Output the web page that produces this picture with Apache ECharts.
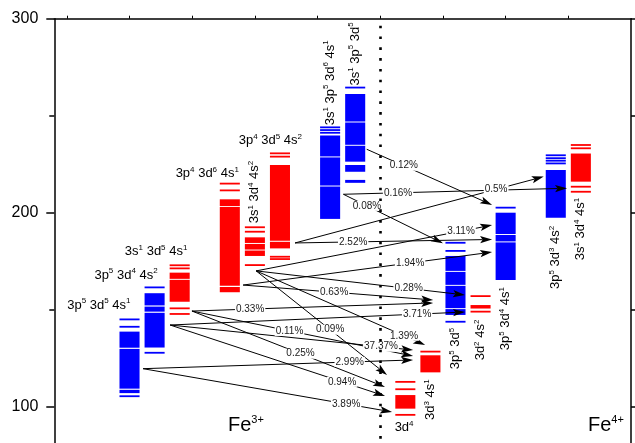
<!DOCTYPE html>
<html>
<head>
<meta charset="utf-8">
<script src="https://cdn.jsdelivr.net/npm/echarts@6/dist/echarts.min.js"></script>
<style>
  html, body { margin: 0; padding: 0; background: #fff; }
  #chart { width: 635px; height: 443px; }
</style>
</head>
<body>
<div id="chart"></div>
<script>
// electron configurations ("^" marks the superscript occupancy)
const configs = [
  '3p^5 3d^5 4s^1', '3p^5 3d^4 4s^2', '3s^1 3d^5 4s^1', '3p^4 3d^6 4s^1',
  '3s^1 3d^4 4s^2', '3p^4 3d^5 4s^2', '3s^1 3p^5 3d^6 4s^1', '3s^1 3p^5 3d^5',
  '3d^4', '3d^3 4s^1', '3p^5 3d^5', '3d^2 4s^2', '3p^5 3d^4 4s^1',
  '3p^5 3d^3 4s^2', '3s^1 3d^4 4s^1'
];
const configSlot = [0, 1, 2, 4, 5, 6, 8, 9, 11, 12, 13, 14, 15, 17, 18];
const configParity = ['odd', 'odd', 'even', 'even', 'even', 'even', 'odd', 'odd',
  'even', 'even', 'odd', 'even', 'odd', 'odd', 'even'];

// energy levels (eV): a number is a single level, [top, bottom] a dense band
const configLevels = [
  [145.0, 141.2, [138.7, 130.4], [129.8, 109.3], [108.7, 107.0], 105.4],
  [161.5, [158.5, 152.2], [151.6, 149.0], [148.4, 130.5], 127.8],
  [172.9, 171.3, [169.1, 165.9], [165.4, 154.1], 150.7, 147.8],
  [215.0, 211.5, [206.9, 203.4], [202.9, 162.3], [161.7, 159.0]],
  [192.5, 190.2, [187.3, 184.4], [183.9, 181.0], [180.5, 177.7], 173.0],
  [230.6, 228.9, [224.6, 185.6], [185.0, 181.6], 177.3, 176.1],
  [244.0, 242.6, 241.2, [239.8, 229.0], [228.5, 214.0], [213.5, 196.8]],
  [264.5, [261.2, 247.0], [246.5, 235.0], [234.5, 226.3], [224.6, 221.1], [216.9, 215.4]],
  [112.8, 109.0, [106.0, 99.0], 95.8],
  [128.4, [126.5, 117.7]],
  [184.5, 180.3, [177.7, 170.0], [169.5, 162.8], [162.3, 150.8], [150.3, 147.3], 143.8],
  [157.0, [152.4, 150.6], 149.0],
  [202.6, [200.0, 189.0], [188.5, 185.2], [184.7, 165.3]],
  [229.6, 228.1, 226.8, 225.4, [222.0, 197.4]],
  [234.9, 233.2, [230.5, 216.0], 213.4, 210.8]
];

// transitions: branching ratio, start [slot, eV], end [slot, eV]
const transLabel = ['0.12%', '0.16%', '0.08%', '0.5%', '2.52%', '3.11%', '1.94%', '0.63%',
  '0.28%', '0.33%', '3.71%', '1.39%', '0.09%', '37.37%', '0.11%', '2.99%', '0.25%', '0.94%', '3.89%'];
const transFrom = [
  [9.46, 232.7], [8.53, 209.5], [8.53, 209.5], [6.60, 184.4], [6.60, 184.4], [5.05, 170.0],
  [4.53, 162.7], [4.53, 162.7], [5.05, 170.0], [2.49, 149.3], [1.62, 142.1], [5.05, 170.0],
  [5.05, 170.0], [1.62, 142.1], [2.49, 149.3], [0.54, 119.6], [2.49, 149.3], [1.62, 142.1],
  [0.54, 119.6]
];
const transTo = [
  [14.46, 204.0], [17.45, 212.6], [12.50, 184.2], [16.52, 218.6], [14.46, 186.2], [14.46, 193.6],
  [14.46, 179.7], [12.11, 155.0], [13.38, 157.6], [12.11, 153.5], [13.38, 148.8], [11.79, 131.8],
  [10.27, 116.4], [11.31, 129.2], [11.31, 126.1], [11.31, 124.1], [10.19, 110.2], [10.19, 105.5],
  [10.47, 97.3]
];
// where along each arrow (slot units) its ratio is written
const transLabelAt = [10.94, 10.71, 9.47, 14.62, 8.92, 13.22, 11.19, 8.16, 11.13, 4.81, 11.47,
  10.95, 8.00, 10.03, 6.38, 8.78, 6.82, 8.48, 8.64];

// --- layout / style ---
const FONT = 'Liberation Sans, Arial, sans-serif';
const parityColor = { odd: '#0000ff', even: '#ff0000' };
const HALF = 0.4;
// label placement: horizontal labels get a centre [slot, eV]; others go up/down off the block
const tagPlace = {
  0: { h: [-1.22, 152.4] }, 1: { h: [-0.14, 167.9] }, 2: { h: [1.06, 180.0] },
  3: { h: [3.10, 220.2] }, 4: { up: 4 }, 5: { h: [5.62, 237.0] }, 6: { up: 2 }, 7: { up: 2 },
  8: { h: [10.95, 89.3] }, 9: { down: 7 }, 10: { down: 6 }, 11: { down: 8 }, 12: { down: 7 },
  13: { down: 8 }, 14: { down: 6 }
};
const richStyle = {
  n: { fontSize: 13, fontFamily: FONT, color: '#000', lineHeight: 16 },
  s: { fontSize: 8, fontFamily: FONT, color: '#000', lineHeight: 9, verticalAlign: 'top' }
};
function toRich(name) {
  return name.split(' ').map(part => {
    const p = part.split('^');
    return '{n|' + p[0] + '}' + (p[1] ? '{s|' + p[1] + '}' : '');
  }).join('{n| }');
}

const levelData = [];
configLevels.forEach((lv, i) => {
  lv.forEach(v => {
    const band = Array.isArray(v) ? v : [v, v];
    levelData.push([configSlot[i], band[0], band[1], i]);
  });
});
const tagData = configs.map((c, i) => {
  const lv = configLevels[i].flat();
  return [configSlot[i], Math.max(...lv), Math.min(...lv), i];
});
const arrowData = transFrom.map((f, i) => f.concat(transTo[i], [i]));
const pctData = arrowData.map((a, i) => a.slice(0, 4).concat([transLabelAt[i], i]));

const ionRich = {
  n: { fontSize: 20, fontFamily: FONT, color: '#000', lineHeight: 22 },
  s: { fontSize: 11, fontFamily: FONT, color: '#000', lineHeight: 12, verticalAlign: 'top' }
};

const chart = echarts.init(document.getElementById('chart'));
chart.setOption({
  animation: false,
  backgroundColor: '#fff',
  grid: { left: 54.3, top: 18.7, width: 576.7, height: 582, outerBoundsMode: 'none', containLabel: false },
  xAxis: {
    type: 'value', min: -3, max: 20, position: 'top',
    axisLine: { show: true, onZero: false, lineStyle: { color: '#000', width: 1.5 } },
    axisTick: { show: true, customValues: [-2.5, 0, 2.5, 5, 7.5, 10, 12.5, 15, 17.5], length: 3,
      lineStyle: { color: '#000', width: 1 } },
    axisLabel: { show: false },
    splitLine: { show: false }
  },
  yAxis: [0, 1].map(k => ({
    type: 'value', min: 0, max: 300, interval: 100, position: k ? 'right' : 'left',
    axisLine: { show: true, onZero: false, lineStyle: { color: '#000', width: 1.5 } },
    axisTick: { show: true, inside: false, length: 8, lineStyle: { color: '#000', width: 1.5 } },
    minorTick: { show: true, splitNumber: 2, length: 5, lineStyle: { color: '#000', width: 1.5 } },
    axisLabel: { show: !k, margin: 16, fontSize: 16, fontFamily: FONT, color: '#000',
      formatter: v => (v > 0 ? String(v) : '') },
    splitLine: { show: false }
  })),
  graphic: [
    { type: 'text', left: 228, top: 414, style: { text: '{n|Fe}{s|3+}', rich: ionRich } },
    { type: 'text', left: 588, top: 414, style: { text: '{n|Fe}{s|4+}', rich: ionRich } }
  ],
  series: [
    {
      type: 'custom', name: 'levels', data: levelData, encode: { x: 0, y: [1, 2] },
      renderItem: (params, api) => {
        const x = api.value(0);
        const p1 = api.coord([x - HALF, api.value(1)]);
        const p2 = api.coord([x + HALF, api.value(2)]);
        let y = p1[1], h = p2[1] - p1[1];
        if (h < 1.8) { y = (p1[1] + p2[1]) / 2 - 0.9; h = 1.8; }
        return { type: 'rect', shape: { x: p1[0], y: y, width: p2[0] - p1[0], height: h },
          style: { fill: parityColor[configParity[api.value(3)]] } };
      },
      markLine: {
        silent: true, symbol: ['none', 'none'], label: { show: false },
        lineStyle: { color: '#000', width: 2.6, type: [2.6, 8.2] },
        data: [{ xAxis: 10 }]
      },
      z: 2
    },
    {
      type: 'custom', name: 'arrows', data: arrowData, encode: { x: [0, 2], y: [1, 3] },
      renderItem: (params, api) => {
        const a = api.coord([api.value(0), api.value(1)]);
        const b = api.coord([api.value(2), api.value(3)]);
        const dx = b[0] - a[0], dy = b[1] - a[1], len = Math.hypot(dx, dy);
        const ux = dx / len, uy = dy / len;
        const L = 12, W = 3.6, N = 2.5;
        const bx = b[0] - ux * L, by = b[1] - uy * L;
        const nx = b[0] - ux * (L - N), ny = b[1] - uy * (L - N);
        return { type: 'group', children: [
          { type: 'line', shape: { x1: a[0], y1: a[1], x2: nx, y2: ny },
            style: { stroke: '#000', lineWidth: 1 } },
          { type: 'polygon', shape: { points: [[b[0], b[1]], [bx - uy * W, by + ux * W], [nx, ny],
            [bx + uy * W, by - ux * W]] }, style: { fill: '#000' } }
        ] };
      },
      z: 3
    },
    {
      type: 'custom', name: 'ratios', data: pctData, encode: { x: [0, 2], y: [1, 3] },
      renderItem: (params, api) => {
        const x1 = api.value(0), e1 = api.value(1), x2 = api.value(2), e2 = api.value(3);
        const lx = api.value(4);
        const e = e1 + (lx - x1) / (x2 - x1) * (e2 - e1);
        const p = api.coord([lx, e]);
        return { type: 'text', x: p[0], y: p[1], style: {
          text: transLabel[api.value(5)], fontSize: 10, fontFamily: FONT, fill: '#1a1a1a',
          backgroundColor: '#fff', padding: [0, 1], align: 'center', verticalAlign: 'middle' } };
      },
      z: 4
    },
    {
      type: 'custom', name: 'configs', data: tagData, encode: { x: 0, y: [1, 2] },
      renderItem: (params, api) => {
        const i = api.value(3);
        const place = tagPlace[i];
        const style = { text: toRich(configs[i]), rich: richStyle, verticalAlign: 'middle' };
        if (place.h) {
          const p = api.coord(place.h);
          return { type: 'text', x: p[0], y: p[1], style: Object.assign(style, { align: 'center' }) };
        }
        if (place.up) {
          const p = api.coord([api.value(0), api.value(1)]);
          return { type: 'text', x: p[0], y: p[1] - place.up, rotation: Math.PI / 2,
            style: Object.assign(style, { align: 'left' }) };
        }
        const p = api.coord([api.value(0), api.value(2)]);
        return { type: 'text', x: p[0], y: p[1] + place.down, rotation: Math.PI / 2,
          style: Object.assign(style, { align: 'right' }) };
      },
      z: 5
    }
  ]
});
</script>
</body>
</html>
